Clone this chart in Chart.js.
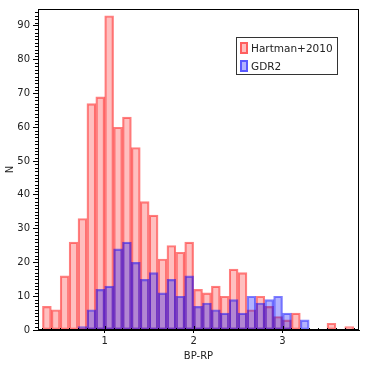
<!DOCTYPE html>
<html>
<head>
<meta charset="utf-8">
<script src="https://cdn.jsdelivr.net/npm/chart.js@4"></script>
<style>
  html, body { margin: 0; padding: 0; background: #fff; }
  #wrap { width: 366px; height: 366px; }
</style>
</head>
<body>
<div id="wrap"><canvas id="hist"></canvas></div>
<script>
// bin centres of the BP-RP histogram (bin width 0.1)
const binCenters = [0.35, 0.45, 0.55, 0.65, 0.75, 0.85, 0.95, 1.05, 1.15, 1.25,
                    1.35, 1.45, 1.55, 1.65, 1.75, 1.85, 1.95, 2.05, 2.15, 2.25,
                    2.35, 2.45, 2.55, 2.65, 2.75, 2.85, 2.95, 3.05, 3.15, 3.25,
                    3.35, 3.45, 3.55, 3.65, 3.75];
const hartmanCounts = [7, 6, 16, 26, 33, 67, 69, 93, 60, 63,
                       54, 38, 34, 21, 25, 23, 26, 12, 11, 13,
                       10, 18, 17, 6, 10, 7, 4, 3, 5, 0,
                       0, 0, 2, 0, 1];
const gdr2Counts = [0, 0, 0, 0, 1, 6, 12, 13, 24, 26,
                    20, 15, 17, 11, 15, 10, 16, 7, 8, 6,
                    5, 9, 5, 10, 8, 9, 10, 5, 0, 3,
                    0, 0, 0, 0, 0];
const xTicks = [1, 2, 3];
const seriesNames = ['Hartman+2010', 'GDR2'];

const FONT = 'DejaVu Sans';

function toPoints(counts) {
    return binCenters
        .map((x, i) => ({ x: x, y: counts[i] }))
        .filter(p => p.y > 0);
}

// frame, minor ticks and the boxed legend
const extras = {
    id: 'extras',
    afterDraw(chart) {
        const ctx = chart.ctx;
        const a = chart.chartArea;
        const xs = chart.scales.x;
        const ys = chart.scales.y;
        ctx.save();
        ctx.strokeStyle = '#000';
        ctx.lineWidth = 1;
        ctx.strokeRect(a.left + 0.5, a.top + 0.5, a.right - a.left - 1, a.bottom - a.top - 1);

        // minor y ticks every 1
        ctx.beginPath();
        for (let v = 1; v < ys.max; v++) {
            if (v % 10 === 0) continue;
            const py = Math.round(ys.getPixelForValue(v)) + 0.5;
            ctx.moveTo(a.left - 3, py);
            ctx.lineTo(a.left + 1, py);
        }
        // minor x ticks every 0.1, pointing inward
        for (let k = 3; k <= 38; k++) {
            const px = Math.round(xs.getPixelForValue(k / 10)) + 0.5;
            const len = k % 10 === 0 ? 4 : 2;
            ctx.moveTo(px, a.bottom);
            ctx.lineTo(px, a.bottom - len);
        }
        ctx.stroke();

        // legend box
        const lx = a.left + 198, ly = a.top + 28, lw = 101, lh = 37;
        ctx.fillStyle = '#fff';
        ctx.fillRect(lx, ly, lw, lh);
        ctx.strokeStyle = '#333';
        ctx.strokeRect(lx + 0.5, ly + 0.5, lw, lh);
        ctx.font = '10.5px "' + FONT + '"';
        ctx.textBaseline = 'middle';
        chart.data.datasets.forEach((ds, i) => {
            const ry = ly + 11 + i * 18;
            ctx.fillStyle = ds.backgroundColor;
            ctx.fillRect(lx + 4, ry - 6, 8, 12);
            ctx.strokeStyle = ds.borderColor;
            ctx.lineWidth = 2;
            ctx.strokeRect(lx + 5, ry - 5, 6, 10);
            ctx.fillStyle = '#222';
            ctx.fillText(ds.label, lx + 15, ry + 1);
        });
        ctx.restore();
    }
};

new Chart(document.getElementById('hist'), {
    type: 'bar',
    data: {
        datasets: [{
            label: seriesNames[0],
            data: toPoints(hartmanCounts),
            backgroundColor: 'rgba(255, 0, 0, 0.25)',
            borderColor: 'rgba(255, 0, 0, 0.5)',
            borderWidth: 1.5,
            borderSkipped: false,
            order: 2
        }, {
            label: seriesNames[1],
            data: toPoints(gdr2Counts),
            backgroundColor: 'rgba(0, 0, 255, 0.3)',
            borderColor: 'rgba(0, 0, 255, 0.5)',
            borderWidth: 1.5,
            borderSkipped: false,
            order: 1
        }]
    },
    options: {
        responsive: true,
        maintainAspectRatio: false,
        animation: false,
        grouped: false,
        barPercentage: 1,
        categoryPercentage: 1,
        layout: { padding: { left: 0, top: 7, right: 7, bottom: 0 } },
        plugins: {
            legend: { display: false },
            tooltip: { enabled: false }
        },
        scales: {
            x: {
                type: 'linear',
                min: 0.25,
                max: 3.86,
                offset: false,
                afterFit: s => { s.height = 36; },
                afterBuildTicks: s => { s.ticks = xTicks.map(v => ({ value: v })); },
                ticks: {
                    includeBounds: false,
                    padding: 2,
                    color: '#222',
                    font: { family: FONT, size: 10 }
                },
                grid: { drawOnChartArea: false, offset: false, tickLength: 3, tickColor: '#000' },
                border: { color: '#000' },
                title: {
                    display: true,
                    text: 'BP-RP',
                    color: '#222',
                    padding: { top: 2, bottom: 4 },
                    font: { family: FONT, size: 10 }
                }
            },
            y: {
                min: 0,
                max: 95,
                afterFit: s => { s.width = 38; },
                ticks: {
                    stepSize: 10,
                    includeBounds: false,
                    padding: 3,
                    color: '#222',
                    font: { family: FONT, size: 10 }
                },
                grid: { drawOnChartArea: false, tickLength: 5, tickColor: '#000' },
                border: { color: '#000' },
                title: {
                    display: true,
                    text: 'N',
                    color: '#222',
                    padding: { top: 4, bottom: 2 },
                    font: { family: FONT, size: 10 }
                }
            }
        }
    },
    plugins: [extras]
});
</script>
</body>
</html>
